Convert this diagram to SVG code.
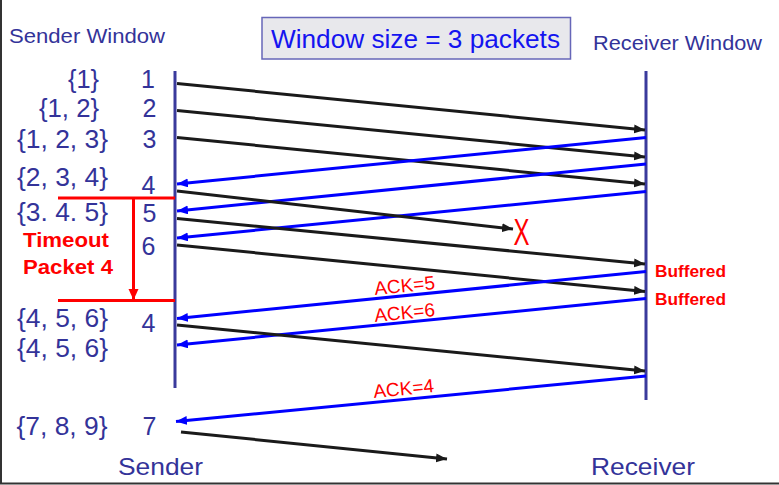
<svg xmlns="http://www.w3.org/2000/svg" width="779" height="485" viewBox="0 0 779 485">
<style>
.lab{font-family:"Liberation Sans",Arial,sans-serif;fill:#333399}
.num{font-family:"Liberation Sans",Arial,sans-serif;fill:#333399;font-size:25px}
.red{font-family:"Liberation Sans",Arial,sans-serif;fill:#ff0000}
.rb{font-family:"Liberation Sans",Arial,sans-serif;fill:#ff0000;font-weight:bold}
.life{stroke:#3a3a9c;stroke-width:3;fill:none}
.pkt{stroke:#1a1a1a;stroke-width:3;fill:none;marker-end:url(#ab)}
.ack{stroke:#0000ff;stroke-width:3;fill:none;marker-end:url(#au)}
.rl{stroke:#ff0000;stroke-width:3;fill:none}
</style>
<defs>
<marker id="ab" markerUnits="userSpaceOnUse" markerWidth="12" markerHeight="10" refX="11" refY="4.5" orient="auto"><path d="M0,0 L11,4.5 L0,9 z" fill="#1a1a1a"/></marker>
<marker id="au" markerUnits="userSpaceOnUse" markerWidth="12" markerHeight="10" refX="11" refY="4.5" orient="auto"><path d="M0,0 L11,4.5 L0,9 z" fill="#0000ff"/></marker>
<marker id="ar" markerUnits="userSpaceOnUse" markerWidth="12" markerHeight="12" refX="11" refY="5" orient="auto"><path d="M0,0 L11,5 L0,10 z" fill="#ff0000"/></marker>
</defs>
<rect width="779" height="485" fill="#ffffff"/>
<line x1="1" y1="0" x2="1" y2="484" stroke="#333" stroke-width="2"/>
<line x1="0" y1="483.5" x2="779" y2="483.5" stroke="#333" stroke-width="2"/>

<g id="title">
<rect x="262" y="17.5" width="308.5" height="41.5" fill="#e8e8ec" stroke="#6666b8" stroke-width="1.5"/>
<text x="271" y="48" font-family="Liberation Sans, Arial, sans-serif" font-size="26" fill="#1414f0" textLength="289" lengthAdjust="spacingAndGlyphs">Window size = 3 packets</text>
</g>

<g id="sender">
<line class="life" x1="175" y1="71" x2="175" y2="388"/>
<text class="lab" x="9" y="42.5" font-size="21" textLength="156" lengthAdjust="spacingAndGlyphs">Sender Window</text>
<text class="lab" x="118" y="475" font-size="24" textLength="85" lengthAdjust="spacingAndGlyphs">Sender</text>
</g>

<g id="receiver">
<line class="life" x1="646" y1="71" x2="646" y2="400"/>
<text class="lab" x="593" y="49.5" font-size="21" textLength="169" lengthAdjust="spacingAndGlyphs">Receiver Window</text>
<text class="lab" x="591" y="475" font-size="24" textLength="104" lengthAdjust="spacingAndGlyphs">Receiver</text>
</g>

<g id="windows">
<text class="num" x="68" y="88" textLength="31" lengthAdjust="spacingAndGlyphs">{1}</text>
<text class="num" x="39" y="117" textLength="60" lengthAdjust="spacingAndGlyphs">{1, 2}</text>
<text class="num" x="17" y="148" textLength="91" lengthAdjust="spacingAndGlyphs">{1, 2, 3}</text>
<text class="num" x="17" y="185.5" textLength="91" lengthAdjust="spacingAndGlyphs">{2, 3, 4}</text>
<text class="num" x="17" y="221" textLength="91" lengthAdjust="spacingAndGlyphs">{3. 4. 5}</text>
<text class="num" x="17" y="327" textLength="91" lengthAdjust="spacingAndGlyphs">{4, 5, 6}</text>
<text class="num" x="17" y="357" textLength="91" lengthAdjust="spacingAndGlyphs">{4, 5, 6}</text>
<text class="num" x="16.5" y="435" textLength="91" lengthAdjust="spacingAndGlyphs">{7, 8, 9}</text>
</g>

<g id="seqnums">
<text class="num" x="148" y="88" text-anchor="middle">1</text>
<text class="num" x="149.5" y="117" text-anchor="middle">2</text>
<text class="num" x="149.5" y="148" text-anchor="middle">3</text>
<text class="num" x="148.5" y="194" text-anchor="middle">4</text>
<text class="num" x="149.5" y="222" text-anchor="middle">5</text>
<text class="num" x="148.5" y="255" text-anchor="middle">6</text>
<text class="num" x="148.5" y="332" text-anchor="middle">4</text>
<text class="num" x="149.5" y="435" text-anchor="middle">7</text>
</g>

<g id="timeout">
<line class="rl" x1="58" y1="198" x2="175" y2="198"/>
<line class="rl" x1="58" y1="300.5" x2="175" y2="300.5"/>
<line class="rl" x1="133.5" y1="198" x2="133.5" y2="300" marker-end="url(#ar)"/>
<text class="rb" x="23" y="247" font-size="21" textLength="86" lengthAdjust="spacingAndGlyphs">Timeout</text>
<text class="rb" x="23" y="273.5" font-size="21" textLength="90" lengthAdjust="spacingAndGlyphs">Packet 4</text>
</g>

<g id="receiver-notes">
<text class="rb" x="655" y="277" font-size="17" textLength="71" lengthAdjust="spacingAndGlyphs">Buffered</text>
<text class="rb" x="655" y="304.5" font-size="17" textLength="71" lengthAdjust="spacingAndGlyphs">Buffered</text>
</g>

<g id="loss">
<text class="red" x="513.5" y="245" font-size="37" textLength="16" lengthAdjust="spacingAndGlyphs">X</text>
</g>

<g id="connectors">
<line class="pkt" x1="177" y1="83.5" x2="645" y2="130"/>
<line class="pkt" x1="177" y1="110.5" x2="645" y2="157"/>
<line class="pkt" x1="177" y1="137.5" x2="645" y2="184"/>
<line class="ack" x1="646" y1="137.5" x2="177" y2="184"/>
<line class="ack" x1="646" y1="164" x2="177" y2="211"/>
<line class="ack" x1="646" y1="191.5" x2="177" y2="238"/>
<line class="pkt" x1="177" y1="191" x2="513" y2="229"/>
<line class="pkt" x1="177" y1="218.5" x2="645" y2="264"/>
<line class="pkt" x1="177" y1="245" x2="645" y2="291.5"/>
<line class="ack" x1="646" y1="271.5" x2="177" y2="318.5"/>
<line class="ack" x1="646" y1="298.5" x2="177" y2="345"/>
<line class="pkt" x1="177" y1="325" x2="645" y2="371"/>
<line class="ack" x1="646" y1="376" x2="176" y2="421.5"/>
<line class="pkt" x1="181" y1="432" x2="447" y2="459"/>
<text class="red" x="375" y="295" font-size="19" transform="rotate(-5.7 375 295)">ACK=5</text>
<text class="red" x="375" y="322" font-size="19" transform="rotate(-5.7 375 322)">ACK=6</text>
<text class="red" x="374" y="398" font-size="19" transform="rotate(-5.6 374 398)">ACK=4</text>
</g>
</svg>
